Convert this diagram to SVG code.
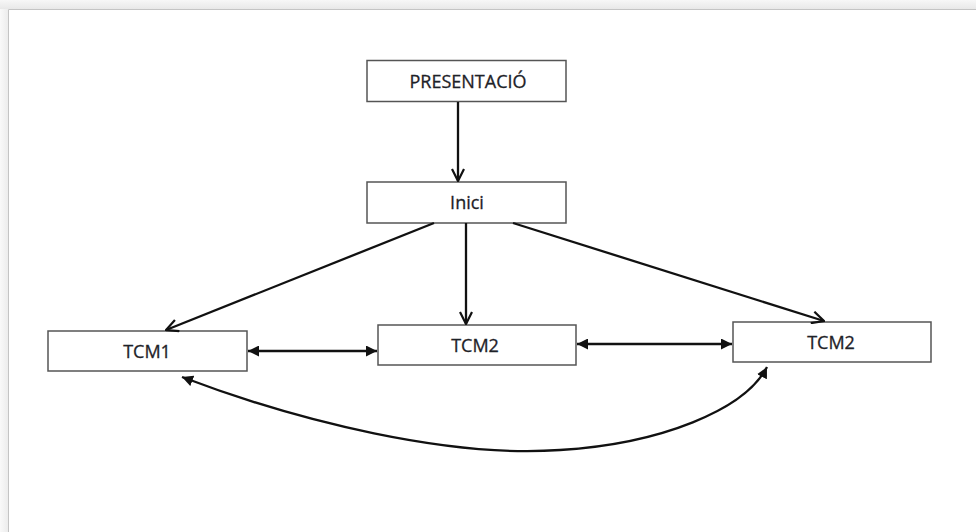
<svg xmlns="http://www.w3.org/2000/svg" width="976" height="532" viewBox="0 0 976 532">
  <defs>
    <linearGradient id="topg" x1="0" y1="0" x2="0" y2="1">
      <stop offset="0" stop-color="#f7f7f7"/>
      <stop offset="1" stop-color="#e8e8e8"/>
    </linearGradient>
    <linearGradient id="leftg" x1="0" y1="0" x2="1" y2="0">
      <stop offset="0" stop-color="#f9f9f9"/>
      <stop offset="1" stop-color="#ececec"/>
    </linearGradient>
    <marker id="open" viewBox="0 0 14 14" refX="13" refY="7" markerWidth="14" markerHeight="14" markerUnits="userSpaceOnUse" orient="auto">
      <path d="M1,1 L13,7 L1,13" fill="none" stroke="#111" stroke-width="2.2" stroke-linejoin="miter"/>
    </marker>
    <marker id="fillEnd" viewBox="0 0 11 11" refX="11" refY="5.5" markerWidth="11" markerHeight="11" markerUnits="userSpaceOnUse" orient="auto">
      <path d="M0,0 L11,5.5 L0,11 Z" fill="#111"/>
    </marker>
    <marker id="fillStart" viewBox="0 0 11 11" refX="0" refY="5.5" markerWidth="11" markerHeight="11" markerUnits="userSpaceOnUse" orient="auto">
      <path d="M11,0 L0,5.5 L11,11 Z" fill="#111"/>
    </marker>
  </defs>
  <style>
    .box { fill: #ffffff; stroke: #555; stroke-width: 1.5; }
    .lbl { font-family: "Open Sans", "Liberation Sans", sans-serif; font-size: 18px; fill: #1e2228; stroke: #1e2228; stroke-width: 0.3; text-anchor: middle; }
    .edge { fill: none; stroke: #111; stroke-width: 2.3; }
  </style>
  <rect x="0" y="0" width="976" height="532" fill="#ffffff"/>
  <rect x="0" y="0" width="976" height="9" fill="url(#topg)"/>
  <rect x="0" y="9" width="8" height="523" fill="url(#leftg)"/>
  <path d="M8.5,532 L8.5,9.5 L976,9.5" fill="none" stroke="#c4c4c4" stroke-width="1"/>

  <g id="n-presentacio">
    <rect class="box" x="367" y="60.5" width="199" height="41"/>
    <text class="lbl" x="468" y="88">PRESENTACIÓ</text>
  </g>
  <g id="n-inici">
    <rect class="box" x="367" y="182" width="199" height="41"/>
    <text class="lbl" x="467" y="209">Inici</text>
  </g>
  <g id="n-tcm1">
    <rect class="box" x="48" y="331" width="199" height="40"/>
    <text class="lbl" x="147" y="358">TCM1</text>
  </g>
  <g id="n-tcm2a">
    <rect class="box" x="378" y="325" width="198" height="40"/>
    <text class="lbl" x="475" y="352">TCM2</text>
  </g>
  <g id="n-tcm2b">
    <rect class="box" x="733" y="322" width="198" height="40"/>
    <text class="lbl" x="831" y="349">TCM2</text>
  </g>

  <g id="connectors">
    <line class="edge" x1="458" y1="102" x2="458" y2="181" marker-end="url(#open)"/>
    <line class="edge" x1="434" y1="223" x2="166" y2="330" marker-end="url(#open)"/>
    <line class="edge" x1="466" y1="223" x2="466" y2="324" marker-end="url(#open)"/>
    <line class="edge" x1="513" y1="223" x2="824" y2="321" marker-end="url(#open)"/>
    <line class="edge" x1="248" y1="351" x2="377" y2="351" marker-start="url(#fillStart)" marker-end="url(#fillEnd)"/>
    <line class="edge" x1="577" y1="344" x2="732" y2="344" marker-start="url(#fillStart)" marker-end="url(#fillEnd)"/>
    <path class="edge" d="M182,377 C300,422 450,458 560,450 C660,444 745,410 767,367" marker-start="url(#fillStart)" marker-end="url(#fillEnd)"/>
  </g>
</svg>
